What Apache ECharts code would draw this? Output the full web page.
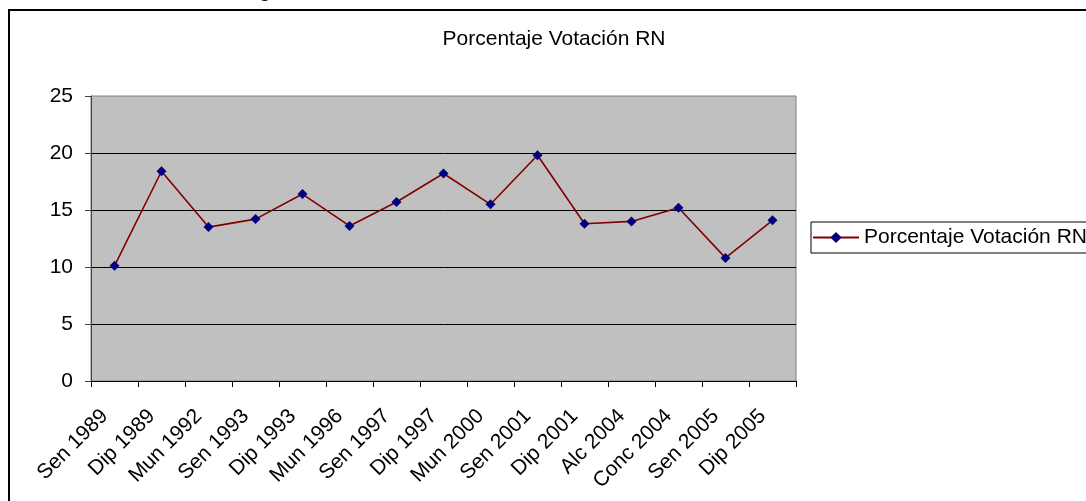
<!DOCTYPE html>
<html>
<head>
<meta charset="utf-8">
<script src="https://cdn.jsdelivr.net/npm/echarts@6/dist/echarts.min.js"></script>
<style>
html,body{margin:0;padding:0;background:#fff;}
#chart{width:1086px;height:501px;}
</style>
</head>
<body>
<div id="chart"></div>
<script>
const categories = ['Sen 1989','Dip 1989','Mun 1992','Sen 1993','Dip 1993','Mun 1996','Sen 1997','Dip 1997','Mun 2000','Sen 2001','Dip 2001','Alc 2004','Conc 2004','Sen 2005','Dip 2005'];
const values = [10.1, 18.4, 13.5, 14.2, 16.4, 13.6, 15.7, 18.2, 15.5, 19.8, 13.8, 14.0, 15.2, 10.8, 14.1];
const seriesName = 'Porcentaje Votación RN';
const titleText = 'Porcentaje Votación RN';

const FONT = '"Liberation Sans", Arial, sans-serif';
const chart = echarts.init(document.getElementById('chart'));
chart.setOption({
  animation: false,
  backgroundColor: '#ffffff',
  textStyle: { fontFamily: FONT },
  title: {
    text: titleText,
    left: 549, top: 24,
    textAlign: 'center',
    textStyle: { fontFamily: FONT, fontSize: 21, fontWeight: 'normal', color: '#000' }
  },
  graphic: [
    { type: 'rect', shape: { x: 9, y: 10, width: 1200, height: 600 },
      style: { fill: null, stroke: '#000', lineWidth: 2 }, z: -1 },
    { type: 'text', left: 259, top: -19,
      style: { text: 'g', fill: '#000', font: '21px "Liberation Sans", Arial, sans-serif' } }
  ],
  legend: {
    left: 811, top: 222,
    orient: 'vertical',
    padding: [5, 20, 5, 1],
    borderColor: '#000', borderWidth: 1,
    backgroundColor: '#fff',
    itemWidth: 46, itemHeight: 14,
    itemGap: 0,
    textStyle: { fontFamily: FONT, fontSize: 21, color: '#000' },
    data: [seriesName]
  },
  grid: {
    left: 91, right: 290, top: 96, bottom: 120,
    show: true, backgroundColor: '#C0C0C0', borderColor: '#808080', borderWidth: 1
  },
  xAxis: {
    type: 'category',
    data: categories,
    boundaryGap: true,
    axisLine: { show: true, lineStyle: { color: '#000', width: 1 } },
    axisTick: { show: true, length: 6, interval: 0, lineStyle: { color: '#000' } },
    axisLabel: { interval: 0, rotate: 45, margin: 22, padding: [0, 14, 0, 0], fontSize: 21, color: '#000', fontFamily: FONT },
    splitLine: { show: false }
  },
  yAxis: {
    type: 'value',
    min: 0, max: 25, interval: 5,
    axisLine: { show: true, lineStyle: { color: '#404040', width: 1 } },
    axisTick: { show: true, length: 6, lineStyle: { color: '#404040' } },
    axisLabel: { margin: 18, fontSize: 21, color: '#000', fontFamily: FONT },
    splitLine: { show: true, showMaxLine: false, lineStyle: { color: '#000', width: 1 } }
  },
  series: [{
    name: seriesName,
    type: 'line',
    data: values,
    symbol: 'diamond',
    symbolSize: 10,
    itemStyle: { color: '#000080' },
    lineStyle: { color: '#800000', width: 1.6 }
  }]
});
</script>
</body>
</html>
